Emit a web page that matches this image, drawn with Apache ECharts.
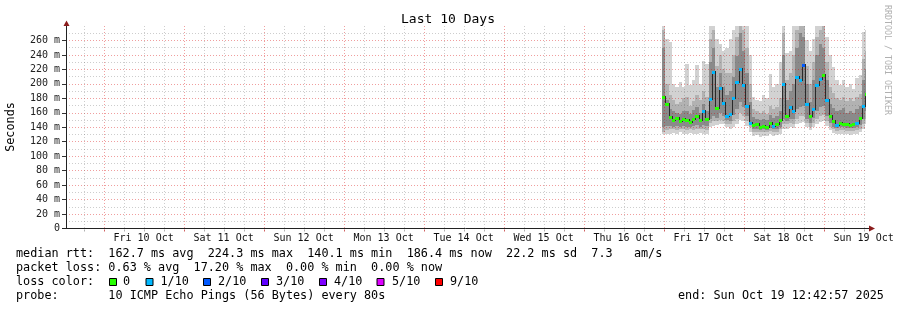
<!DOCTYPE html>
<html><head><meta charset="utf-8">
<script src="https://cdn.jsdelivr.net/npm/echarts@6/dist/echarts.min.js"></script>
<style>html,body{margin:0;padding:0;background:#fff}#c{width:897px;height:310px}</style>
</head><body><div id="c"></div>
<script>
// x values: hours relative to Fri 17 Oct 00:00
const xMin = -179.2842, xMax = 60.7158;
const times = [-0.5,0.5,1.5,2.5,3.5,4.5,5.5,6.5,7.5,8.5,9.5,10.5,11.5,12.5,13.5,14.5,15.5,16.5,17.5,18.5,19.5,20.5,21.5,22.5,23.5,24.5,25.5,26.5,27.5,28.5,29.5,30.5,31.5,32.5,33.5,34.5,35.5,36.5,37.5,38.5,39.5,40.5,41.5,42.5,43.5,44.5,45.5,46.5,47.5,48.5,49.5,50.5,51.5,52.5,53.5,54.5,55.5,56.5,57.5,58.5,59.5,60.5];
const median = [182,172,154,150,153,148,152,150,147,151,155,150,162,152,179,217,167,194,174,156,158,180,202,221,198,170,146,143,144,141,142,140,146,142,145,150,200,156,168,162,209,206,226,172,156,165,198,207,212,178,155,148,143,146,144,145,143,144,146,153,170,186];
const loss = [0,0,0,0,0,0,0,0,0,0, 0,0,1,0,1,1,0,1,1,1, 1,1,1,1,1,1,1,0,0,0, 0,0,0,1,0,0,1,0,1,1, 1,1,2,1,0,1,1,1,0,1, 0,0,1,0,0,0,0,0,1,0, 1,0];
const lightLo = [130,130,131,132,130,133,131,130,132,130,131,132,130,131, 140,142,143,145,144,140,138,141,145,150,148,142,134, 128,129,127,128,128,130,128,129,131, 138,138,140,139,145,146,147,140,136,140,145,147,148,142,136, 132,130,131,131,130,129,130,131,133,138,145];
const lightHi = [290,262,258,200,196,202,195,228,198,205,226,200,232,228, 290,290,262,255,245,250,262,275,290,290,290,290,240, 182,178,176,185,180,214,195,200,230, 290,242,245,290,290,290,290,260,245,262,290,290,290,265,240, 223,205,198,206,195,200,193,208,212,272,275];
const midLo = [134,136,137,137,136,138,137,136,137,136,137,137,137,136, 146,148,148,150,149,145,144,148,152,160,155,148,140, 133,134,133,134,133,135,134,134,137, 145,144,146,145,152,155,156,146,141,146,152,156,157,148,141, 137,135,136,136,135,135,135,136,138,144,152];
const midHi = [275,200,185,178,172,175,180,182,170,176,185,178,190,182, 262,275,225,240,220,215,215,240,265,285,275,250,200, 165,162,160,163,158,170,165,168,180, 270,205,215,240,275,285,280,225,200,230,265,275,280,230,195, 188,180,178,182,176,180,176,182,186,235,245];
const darkLo = [140,142,142,141,142,141,142,141,140,142,143,141,143,142, 152,156,153,160,155,150,149,157,165,175,168,155,144, 137,137,136,137,136,139,137,138,141, 152,149,152,152,165,168,170,152,146,153,162,168,170,155,146, 141,139,140,140,139,139,139,140,143,152,162];
const darkHi = [250,178,165,162,160,158,163,162,158,164,168,160,172,163, 230,250,195,215,195,185,190,210,238,270,245,215,175, 154,152,150,152,150,157,153,156,162, 240,178,190,200,250,270,265,200,175,205,240,255,250,205,172, 166,162,164,166,160,163,160,165,170,205,220];

const dayNames = ['Fri 10 Oct','Sat 11 Oct','Sun 12 Oct','Mon 13 Oct','Tue 14 Oct','Wed 15 Oct','Thu 16 Oct','Fri 17 Oct','Sat 18 Oct','Sun 19 Oct'];
const dayNoon = [-156,-132,-108,-84,-60,-36,-12,12,36,60];
const gridHours = [];
for (let h = -174; h <= xMax; h += 6) gridHours.push(h);

const lossLegend = [['0','#26ff00'],['1/10','#00b8ff'],['2/10','#0059ff'],['3/10','#5e00ff'],['4/10','#7e00ff'],['5/10','#dd00ff'],['9/10','#ff0000']];
const lossColor = {0:'#26ff00',1:'#00b8ff',2:'#0059ff',3:'#5e00ff',4:'#7e00ff',5:'#dd00ff',9:'#ff0000'};
const legendBoxX = [109,145.5,203,261,319,376.5,435];
const legendTextX = [123,160.5,218,276,334,392,450];

const MAJOR = 'rgba(215,0,0,0.38)';
const MINOR = 'rgba(100,100,100,0.32)';
const DASH = [1,2];
const SMOKE = ['#d2d2d2','#b2b2b2','#8a8a8a'];
const MONO = "'DejaVu Sans Mono', monospace";

const chart = echarts.init(document.getElementById('c'), null, {renderer:'canvas'});

function smokeItem(params, api){
  const t = api.value(0);
  const bands = [[1,2,SMOKE[0]],[3,4,SMOKE[1]],[5,6,SMOKE[2]]];
  const children = bands.map(([a,b,c])=>{
    const p0 = api.coord([t, api.value(a)]);
    const p1 = api.coord([t+1, api.value(b)]);
    const x0 = Math.round(p0[0]), x1 = Math.round(p1[0]);
    const y0 = Math.round(p0[1]), y1 = Math.round(p1[1]);
    return {type:'rect', shape:{x:x0, y:y1, width:x1-x0, height:y0-y1}, style:{fill:c}};
  });
  return {type:'group', children};
}
function medItem(params, api){
  const i = params.dataIndex;
  const t = api.value(0), m = api.value(1), l = api.value(2);
  const p = api.coord([t, m]);
  const xl = Math.round(p[0]);
  const xr = Math.round(api.coord([t+1, m])[0]);
  const y = Math.round(p[1]);
  const children = [];
  if (i > 0) {
    const yp = Math.round(api.coord([t, median[i-1]])[1]);
    children.push({type:'rect', shape:{x:xl, y:Math.min(y,yp)-1, width:1, height:Math.abs(y-yp)+2}, style:{fill:'#2a2a2a'}});
  }
  children.push({type:'rect', shape:{x:xl, y:y-1, width:Math.max(3,xr-xl), height:3}, style:{fill:lossColor[l]}});
  return {type:'group', children};
}
function vgridItem(params, api){
  const h = api.value(0), major = api.value(1);
  const cs = params.coordSys;
  const x = Math.round(api.coord([h, 0])[0]) + 0.5;
  return {type:'group', children:[
    {type:'line', shape:{x1:x, y1:cs.y, x2:x, y2:cs.y+cs.height}, style:{stroke: major ? MAJOR : MINOR, lineWidth:1, lineDash:DASH}},
    {type:'line', shape:{x1:x, y1:cs.y+cs.height+1, x2:x, y2:cs.y+cs.height+3}, style:{stroke: major ? '#d06060' : '#b0b0b0', lineWidth:1}}
  ]};
}
function dayItem(params, api){
  const h = api.value(0);
  const cs = params.coordSys;
  const x = api.coord([h, 0])[0];
  return {type:'text', x: x, y: cs.y + cs.height + 9.5,
    style:{text: dayNames[params.dataIndex], fill:'#111', font: "10px " + MONO, align:'center', verticalAlign:'middle'}};
}

const graphics = [];
graphics.push({type:'line', shape:{x1:66.5, y1:228.5, x2:66.5, y2:25}, style:{stroke:'#222', lineWidth:1}, z:20});
graphics.push({type:'polygon', shape:{points:[[63.5,26],[69.5,26],[66.5,20.5]]}, style:{fill:'#8b1c1c'}, z:21});
graphics.push({type:'line', shape:{x1:62, y1:228.5, x2:869, y2:228.5}, style:{stroke:'#222', lineWidth:1}, z:20});
graphics.push({type:'polygon', shape:{points:[[869,225.5],[869,231.5],[875,228.5]]}, style:{fill:'#8b1c1c'}, z:21});
graphics.push({type:'text', x:448, y:19.5, style:{text:'Last 10 Days', font:"13px " + MONO, fill:'#000', align:'center', verticalAlign:'middle', textAlign:'center', textVerticalAlign:'middle'}});
graphics.push({type:'text', x:11, y:127, rotation:Math.PI/2, style:{text:'Seconds', font:"11.8px " + MONO, fill:'#000', align:'center', verticalAlign:'middle', textAlign:'center', textVerticalAlign:'middle'}});
graphics.push({type:'text', x:887, y:5, rotation:-Math.PI/2, style:{text:'RRDTOOL / TOBI OETIKER', font:"8.3px " + MONO, fill:'#b0b0b0', align:'left', verticalAlign:'middle', textAlign:'left', textVerticalAlign:'middle'}});
const legendLines = [
  [254, 'median rtt:  162.7 ms avg  224.3 ms max  140.1 ms min  186.4 ms now  22.2 ms sd  7.3   am/s'],
  [268, 'packet loss: 0.63 % avg  17.20 % max  0.00 % min  0.00 % now'],
  [282, 'loss color:'],
  [296, 'probe:       10 ICMP Echo Pings (56 Bytes) every 80s']
];
legendLines.forEach(([y, t]) => graphics.push({type:'text', x:16, y:y, style:{text:t, font:"11.8px " + MONO, fill:'#000', align:'left', verticalAlign:'middle', textAlign:'left', textVerticalAlign:'middle'}}));
lossLegend.forEach(([lab, col], i) => {
  graphics.push({type:'rect', shape:{x:legendBoxX[i]+0.5, y:278.5, width:7, height:7}, style:{fill:col, stroke:'#000', lineWidth:1}});
  graphics.push({type:'text', x:legendTextX[i], y:282, style:{text:lab, font:"11.8px " + MONO, fill:'#000', align:'left', verticalAlign:'middle', textAlign:'left', textVerticalAlign:'middle'}});
});
graphics.push({type:'text', x:678, y:296, style:{text:'end: Sun Oct 19 12:42:57 2025', font:"11.8px " + MONO, fill:'#000', align:'left', verticalAlign:'middle', textAlign:'left', textVerticalAlign:'middle'}});

chart.setOption({
  backgroundColor:'#ffffff',
  animation:false,
  grid:{left:66, top:26, width:800, height:202.5, containLabel:false},
  xAxis:{type:'value', min:xMin, max:xMax, show:false},
  yAxis:{type:'value', min:0, max:280, interval:20, z:3, position:'left',
    axisLine:{show:false, onZero:false},
    axisTick:{show:true, length:4, lineStyle:{color:'#333'}},
    axisLabel:{margin:6, fontFamily:MONO, fontSize:10, color:'#222', showMaxLabel:false,
      formatter: v => v === 0 ? '0' : v + ' m'},
    splitLine:{show:true, showMinLine:false, showMaxLine:false, lineStyle:{color:MAJOR, type:DASH, width:1}},
    minorTick:{show:false, splitNumber:2},
    minorSplitLine:{show:true, lineStyle:{color:MINOR, type:DASH, width:1}}
  },
  graphic: graphics,
  series:[
    {type:'custom', name:'smoke', z:2, clip:true, silent:true, renderItem:smokeItem,
      encode:{x:0, y:[1,2]},
      data: times.map((t,i)=>[t, lightLo[i], lightHi[i], midLo[i], midHi[i], darkLo[i], darkHi[i]])},
    {type:'custom', name:'vgrid', z:4, silent:true, renderItem:vgridItem, encode:{x:0, y:1},
      data: gridHours.map(h=>[h, h % 24 === 0 ? 1 : 0])},
    {type:'custom', name:'median', z:6, clip:true, silent:true, renderItem:medItem, encode:{x:0, y:1},
      data: times.map((t,i)=>[t, median[i], loss[i]])},
    {type:'custom', name:'days', z:6, silent:true, renderItem:dayItem, encode:{x:0, y:1},
      data: dayNoon.map(h=>[h, 0])}
  ]
});
</script>
</body></html>
